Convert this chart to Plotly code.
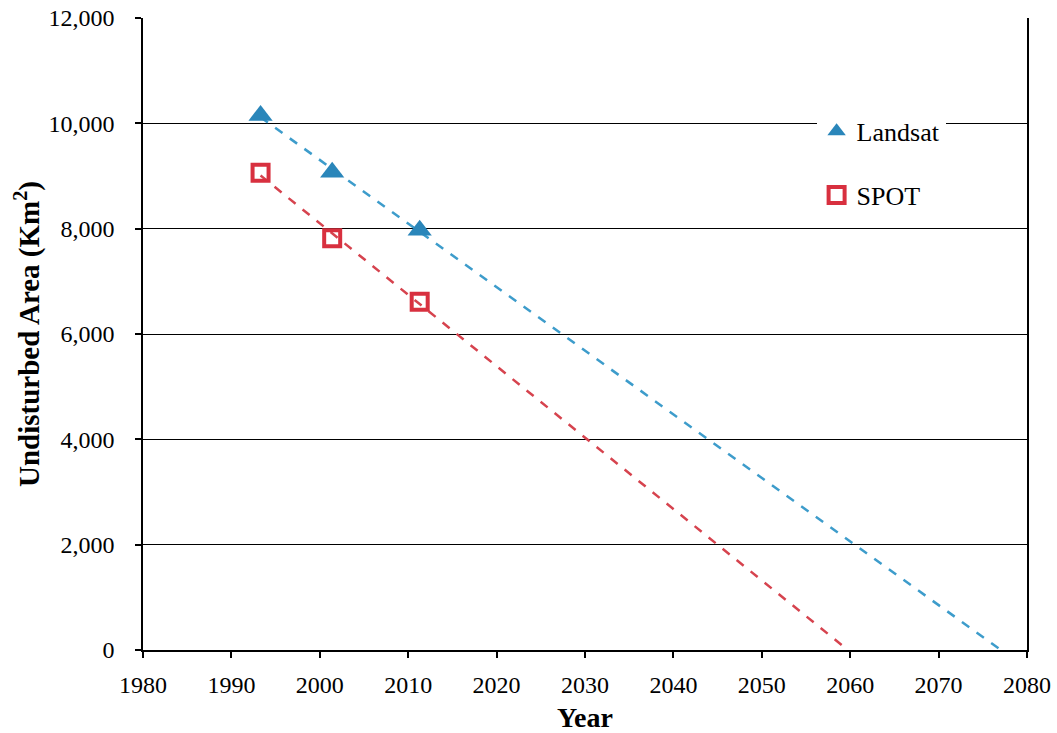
import numpy as np
import plotly.graph_objects as go

years = [1993.3, 2001.4, 2011.3]
landsat = [10150, 9070, 7970]
spot = [9060, 7820, 6610]

x_ticks = list(range(1980, 2081, 10))
y_ticks = list(range(0, 12001, 2000))

def trend(x, y):
    m, b = np.polyfit(x, y, 1)
    x0 = x[0]
    x1 = -b / m
    return [x0, x1], [m * x0 + b, 0]

fig = go.Figure()

lx, ly = trend(years, landsat)
sx, sy = trend(years, spot)

fig.add_trace(go.Scatter(x=lx, y=ly, mode="lines", showlegend=False,
                         line=dict(color="#3d9ccb", width=2.5, dash="dash"), hoverinfo="skip"))
fig.add_trace(go.Scatter(x=sx, y=sy, mode="lines", showlegend=False,
                         line=dict(color="#d6434e", width=2.5, dash="dash"), hoverinfo="skip"))

fig.add_trace(go.Scatter(x=years, y=landsat, mode="markers", name="Landsat", legendgroup="a",
                         marker=dict(symbol="triangle-up", size=21, color="#2a86ba")))
fig.add_trace(go.Scatter(x=years, y=spot, mode="markers", name="SPOT", legendgroup="b",
                         marker=dict(symbol="square-open", size=16, color="#d8303f",
                                     line=dict(width=4, color="#d8303f"))))

font_family = "Liberation Serif, Times New Roman, serif"

fig.update_layout(
    width=1057, height=733,
    margin=dict(l=143, r=30, t=18, b=83, autoexpand=False),
    paper_bgcolor="white", plot_bgcolor="white",
    font=dict(family=font_family, color="black", size=24),
    legend=dict(x=0.762, y=0.858, xanchor="left", yanchor="top",
                bgcolor="white", font=dict(size=26, family=font_family),
                tracegroupgap=27, itemwidth=30),
)
fig.update_xaxes(range=[1980, 2080], tickvals=x_ticks, ticktext=[str(v) for v in x_ticks],
                 showgrid=False, showline=True, linecolor="black", linewidth=1.5,
                 ticks="outside", ticklen=6, tickcolor="black", tickwidth=1.5,
                 ticklabelstandoff=6, automargin=False, ticklabeloverflow="allow",
                 tickfont=dict(size=24, family=font_family), zeroline=False,
                 title=dict(text="<b>Year</b>", font=dict(size=28, family=font_family), standoff=11))
fig.update_yaxes(range=[0, 12000], tickvals=y_ticks, ticktext=[f"{v:,}" for v in y_ticks],
                 showgrid=True, gridcolor="black", gridwidth=1.3,
                 showline=True, linecolor="black", linewidth=1.5, mirror=True,
                 ticks="outside", ticklen=6, tickcolor="black", tickwidth=1.5,
                 ticklabelstandoff=16, automargin=False, ticklabeloverflow="allow",
                 tickfont=dict(size=24, family=font_family), zeroline=False,
                 title=dict(text="<b>Undisturbed Area (Km<sup>2</sup>)</b>",
                            font=dict(size=29, family=font_family), standoff=0))

fig.write_html("out.html", config={"displayModeBar": False},
               post_script="document.body.style.margin='0';")
